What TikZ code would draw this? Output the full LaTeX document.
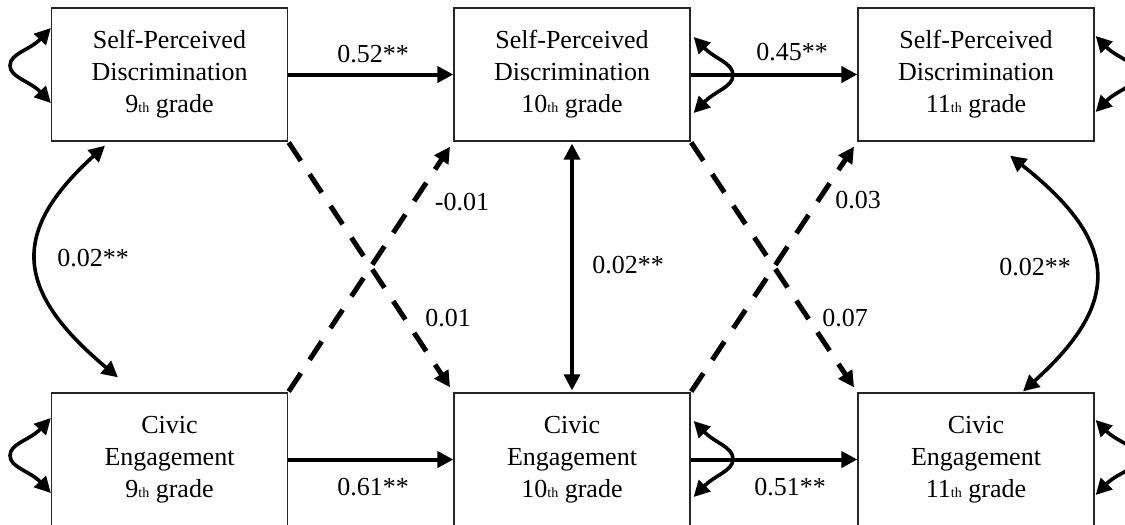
\documentclass[tikz,border=0pt]{standalone}
\usepackage{fontspec}
\setmainfont{Liberation Serif}
\usetikzlibrary{arrows.meta}
\newcommand{\thfont}{\fontsize{14}{32}\selectfont}
\begin{document}
\begin{tikzpicture}[x=1pt,y=-1pt,
  box/.style={draw=black!85, line width=1.3pt, minimum width=236pt, minimum height=133pt,
    inner sep=0pt, align=center, font=\fontsize{26}{32}\selectfont},
  lbl/.style={font=\fontsize{26}{32}\selectfont, inner sep=0pt},
  tip/.tip={Triangle[length=16pt,width=16pt]},
  solidarrow/.style={line width=4pt, -tip},
  dasharrow/.style={line width=5pt, dash pattern=on 22pt off 16pt, -tip, shorten >=6pt, shorten <=1pt},
  dblarrow/.style={line width=3.6pt, tip-tip}
]
\clip (0,0) rectangle (1125,525);
\fill[white] (0,0) rectangle (1125,525);

% boxes
\node[box] (b1) at (169.5,74.5) {Self-Perceived\\Discrimination\\9{\thfont th} grade};
\node[box] (b2) at (572,74.5) {Self-Perceived\\Discrimination\\10{\thfont th} grade};
\node[box] (b3) at (976,74.5) {Self-Perceived\\Discrimination\\11{\thfont th} grade};
\node[box] (c1) at (169.5,459.5) {Civic\\Engagement\\9{\thfont th} grade};
\node[box] (c2) at (572,459.5) {Civic\\Engagement\\10{\thfont th} grade};
\node[box] (c3) at (976,459.5) {Civic\\Engagement\\11{\thfont th} grade};

% labels
\node[lbl] (l1) at (373,54) {0.52**};
\node[lbl] (l2) at (792,52) {0.45**};
\node[lbl] (l3) at (373,487) {0.61**};
\node[lbl] (l4) at (790,487) {0.51**};
\node[lbl] (l5) at (462,202) {-0.01};
\node[lbl] (l6) at (448,318) {0.01};
\node[lbl] (l7) at (628,265) {0.02**};
\node[lbl] (l8) at (858,200) {0.03};
\node[lbl] (l9) at (845,318) {0.07};
\node[lbl] (l10) at (93,258) {0.02**};
\node[lbl] (l11) at (1035,267) {0.02**};

% horizontal paths
\draw[solidarrow] (b1.east) -- (b2.west);
\draw[solidarrow] (b2.east) -- (b3.west);
\draw[solidarrow] (c1.east) -- (c2.west);
\draw[solidarrow] (c2.east) -- (c3.west);

% cross-lagged paths
\draw[dasharrow] (b1.south east) -- (c2.north west);
\draw[dasharrow] (c1.north east) -- (b2.south west);
\draw[dasharrow] (b2.south east) -- (c3.north west);
\draw[dasharrow] (c2.north east) -- (b3.south west);

% covariances
\draw[dblarrow] ([yshift=-2pt]b2.south) -- ([yshift=2pt]c2.north);
\draw[dblarrow] ([xshift=-64.5pt,yshift=-4pt]b1.south) .. controls (12,230) and (12,289) .. ([xshift=-51.5pt,yshift=15pt]c1.north);
\draw[dblarrow] ([xshift=34pt,yshift=-14pt]b3.south) .. controls (1121,243) and (1121,303) .. ([xshift=47pt,yshift=1pt]c3.north);

% residual variances
\draw[dblarrow] ([yshift=46.5pt]b1.west) .. controls (30,50) and (10,53.5) .. (10,65.5) .. controls (10,77.5) and (30,81) .. ([yshift=-28.5pt]b1.west);
\draw[dblarrow] ([yshift=41.5pt]c1.west) .. controls (30,440) and (10,443.5) .. (10,455.5) .. controls (10,467.5) and (30,471) .. ([yshift=-33.5pt]c1.west);
\draw[dblarrow] ([xshift=3pt,yshift=37.5pt]b2.east) .. controls (715,59) and (733,63) .. (733,75) .. controls (733,87) and (715,91) .. ([xshift=3pt,yshift=-38.5pt]b2.east);
\draw[dblarrow] ([xshift=3pt,yshift=38.5pt]c2.east) .. controls (715,443) and (733,447) .. (733,459) .. controls (733,471) and (715,475) .. ([xshift=3pt,yshift=-37.5pt]c2.east);
\draw[dblarrow] ([xshift=1pt,yshift=38.5pt]b3.east) .. controls (1117,58) and (1137,62) .. (1137,74) .. controls (1137,86) and (1117,90) .. ([xshift=1pt,yshift=-37.5pt]b3.east);
\draw[dblarrow] ([xshift=1pt,yshift=39.5pt]c3.east) .. controls (1117,442) and (1137,445.5) .. (1137,457.5) .. controls (1137,469.5) and (1117,473) .. ([xshift=1pt,yshift=-35.5pt]c3.east);
\end{tikzpicture}
\end{document}
